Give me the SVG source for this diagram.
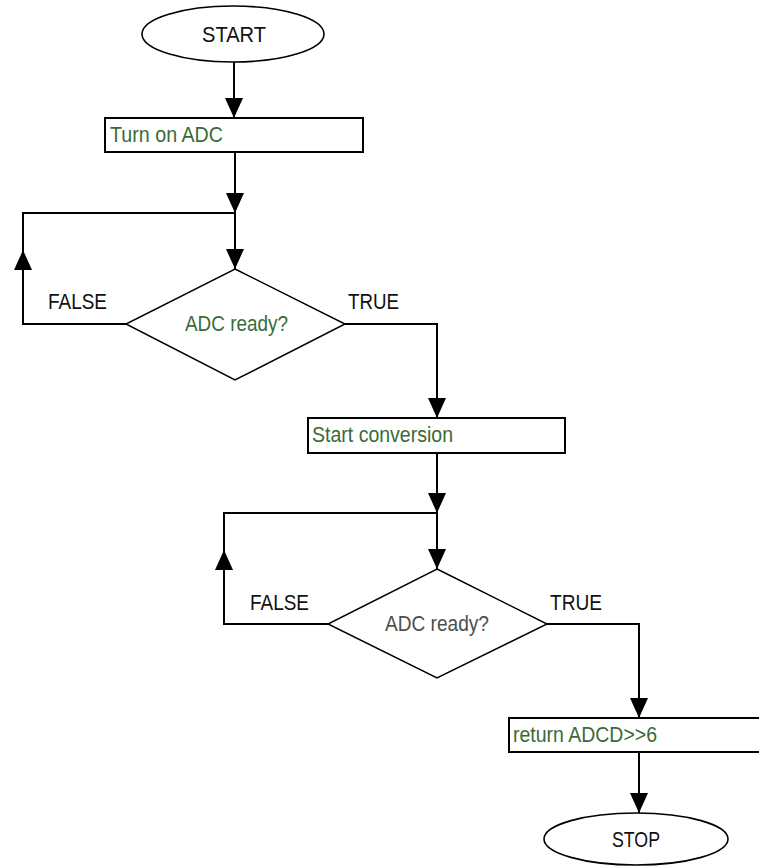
<svg xmlns="http://www.w3.org/2000/svg" width="759" height="867" viewBox="0 0 759 867">
  <style>
    .term { fill: #ffffff; stroke: #000; stroke-width: 1.6; }
    .proc { fill: #ffffff; stroke: #000; stroke-width: 2; }
    .dec { fill: #ffffff; stroke: #000; stroke-width: 1.5; }
    .wire { fill: none; stroke: #000; stroke-width: 2; }
    .lbl { font-family: "Liberation Sans", Arial, sans-serif; font-size: 22px; fill: #111; }
    .code { font-family: "Liberation Sans", Arial, sans-serif; font-size: 22px; fill: #3a6a3a; }
    .code2 { font-family: "Liberation Sans", Arial, sans-serif; font-size: 22px; fill: #4a4f4a; }
  </style>
  <defs>
    <marker id="arrow" markerUnits="userSpaceOnUse" markerWidth="20" markerHeight="18" refX="20" refY="9" orient="auto">
      <path d="M0,0 L20,9 L0,18 z" fill="#000"/>
    </marker>
  </defs>
  <rect width="759" height="867" fill="#ffffff"/>

  <g id="connectors">
    <path class="wire" d="M234,62 V118" marker-end="url(#arrow)"/>
    <path class="wire" d="M235,152 V213" marker-end="url(#arrow)"/>
    <path class="wire" d="M235,213 V269" marker-end="url(#arrow)"/>
    <path class="wire" d="M126,324 H23 V250" marker-end="url(#arrow)"/>
    <path class="wire" d="M23,251 V213 H235"/>
    <path class="wire" d="M345,324 H437 V418" marker-end="url(#arrow)"/>
    <path class="wire" d="M437,453 V513" marker-end="url(#arrow)"/>
    <path class="wire" d="M437,513 V569" marker-end="url(#arrow)"/>
    <path class="wire" d="M328,624 H224 V550" marker-end="url(#arrow)"/>
    <path class="wire" d="M224,551 V513 H437"/>
    <path class="wire" d="M547,624 H639 V718" marker-end="url(#arrow)"/>
    <path class="wire" d="M639,752 V813" marker-end="url(#arrow)"/>
  </g>

  <g id="start">
    <ellipse class="term" cx="233" cy="34" rx="91" ry="28"/>
    <text class="lbl" x="202" y="42" textLength="64" lengthAdjust="spacingAndGlyphs">START</text>
  </g>

  <g id="turn-on-adc">
    <rect class="proc" x="105" y="118" width="258" height="34"/>
    <text class="code" x="110" y="142" textLength="113" lengthAdjust="spacingAndGlyphs">Turn on ADC</text>
  </g>

  <g id="adc-ready-1">
    <polygon class="dec" points="235,269 345,324 235,380 126,324"/>
    <text class="code" x="185" y="331" textLength="103" lengthAdjust="spacingAndGlyphs">ADC ready?</text>
    <text class="lbl" x="48" y="309" textLength="59" lengthAdjust="spacingAndGlyphs">FALSE</text>
    <text class="lbl" x="348" y="309" textLength="51" lengthAdjust="spacingAndGlyphs">TRUE</text>
  </g>

  <g id="start-conversion">
    <rect class="proc" x="308" y="418" width="257" height="35"/>
    <text class="code" x="312" y="442" textLength="141" lengthAdjust="spacingAndGlyphs">Start conversion</text>
  </g>

  <g id="adc-ready-2">
    <polygon class="dec" points="437,569 547,624 437,678 328,624"/>
    <text class="code2" x="385" y="631" textLength="104" lengthAdjust="spacingAndGlyphs">ADC ready?</text>
    <text class="lbl" x="250" y="610" textLength="59" lengthAdjust="spacingAndGlyphs">FALSE</text>
    <text class="lbl" x="550" y="610" textLength="52" lengthAdjust="spacingAndGlyphs">TRUE</text>
  </g>

  <g id="return-value">
    <rect class="proc" x="509" y="718" width="258" height="34"/>
    <text class="code" x="513" y="742" textLength="144" lengthAdjust="spacingAndGlyphs">return ADCD&gt;&gt;6</text>
  </g>

  <g id="stop">
    <ellipse class="term" cx="636" cy="839" rx="92" ry="26"/>
    <text class="lbl" x="612" y="847" textLength="48" lengthAdjust="spacingAndGlyphs">STOP</text>
  </g>
</svg>
